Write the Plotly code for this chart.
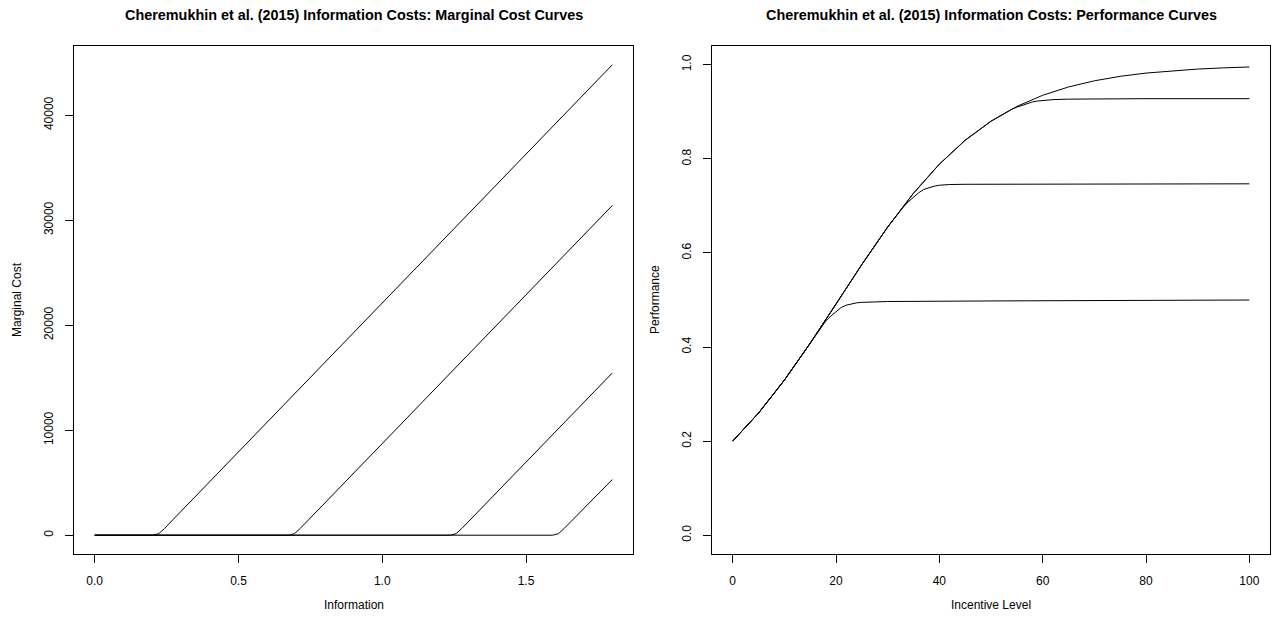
import plotly.graph_objects as go

# ---------------- Data ----------------
# Left panel: marginal cost curves (Information -> Marginal Cost)
mc1_x = [0.0, 0.203, 0.223, 0.243, 1.8]
mc1_y = [0, 0, 150, 650, 44800]
mc2_x = [0.0, 0.675, 0.695, 0.715, 1.8]
mc2_y = [0, 0, 150, 650, 31400]
mc3_x = [0.0, 1.237, 1.257, 1.277, 1.8]
mc3_y = [0, 0, 150, 650, 15450]
mc4_x = [0.0, 1.593, 1.613, 1.633, 1.8]
mc4_y = [0, 0, 150, 650, 5300]

# Right panel: performance curves (Incentive Level -> Performance)
pf1_x = [0, 5, 10, 15, 20, 25, 30, 35, 40, 45, 50, 55, 60, 65, 70, 75, 80, 85, 90, 95, 100]
pf1_y = [0.200, 0.2596, 0.3295, 0.4080, 0.4914, 0.5754, 0.6551, 0.7270, 0.7888, 0.8397,
         0.8801, 0.9115, 0.9352, 0.9529, 0.9660, 0.9755, 0.9824, 0.9874, 0.9910, 0.9935, 0.9954]

pf2_x = [0, 5, 10, 15, 20, 25, 30, 35, 40, 45, 50, 54, 55, 56, 57, 58, 59, 60, 62, 65, 70, 80, 100]
pf2_y = [0.200, 0.2596, 0.3295, 0.4080, 0.4914, 0.5754, 0.6551, 0.7270, 0.7888, 0.8397,
         0.8801, 0.9055, 0.910, 0.914, 0.918, 0.921, 0.923, 0.9245, 0.926, 0.927, 0.9275, 0.928, 0.928]

pf3_x = [0, 5, 10, 15, 20, 25, 30, 32, 33, 34, 35, 36, 37, 38, 39, 40, 42, 45, 60, 100]
pf3_y = [0.200, 0.2596, 0.3295, 0.4080, 0.4914, 0.5754, 0.6551, 0.684, 0.697, 0.709,
         0.719, 0.728, 0.735, 0.739, 0.742, 0.744, 0.7455, 0.746, 0.7465, 0.747]

pf4_x = [0, 5, 10, 15, 17, 18, 19, 20, 21, 22, 23, 24, 25, 27, 30, 50, 100]
pf4_y = [0.200, 0.2596, 0.3295, 0.4080, 0.440, 0.455, 0.466, 0.476, 0.484, 0.489,
         0.492, 0.494, 0.495, 0.496, 0.4968, 0.498, 0.500]

left_xticks = [0.0, 0.5, 1.0, 1.5]
left_xticklabels = ["0.0", "0.5", "1.0", "1.5"]
left_yticks = [0, 10000, 20000, 30000, 40000]
left_yticklabels = ["0", "10000", "20000", "30000", "40000"]
right_xticks = [0, 20, 40, 60, 80, 100]
right_xticklabels = ["0", "20", "40", "60", "80", "100"]
right_yticks = [0.0, 0.2, 0.4, 0.6, 0.8, 1.0]
right_yticklabels = ["0.0", "0.2", "0.4", "0.6", "0.8", "1.0"]

titles = ["Cheremukhin et al. (2015) Information Costs: Marginal Cost Curves",
          "Cheremukhin et al. (2015) Information Costs: Performance Curves"]
xlabels = ["Information", "Incentive Level"]
ylabels = ["Marginal Cost", "Performance"]

# ---------------- Figure ----------------
W, H = 1276, 623
FONT = "Liberation Sans, Arial, Helvetica, sans-serif"

fig = go.Figure()
line = dict(color="black", width=1)
for xs, ys in [(mc1_x, mc1_y), (mc2_x, mc2_y), (mc3_x, mc3_y), (mc4_x, mc4_y)]:
    fig.add_trace(go.Scatter(x=xs, y=ys, mode="lines", line=line, xaxis="x", yaxis="y",
                             showlegend=False, hoverinfo="skip"))
for xs, ys in [(pf1_x, pf1_y), (pf2_x, pf2_y), (pf3_x, pf3_y), (pf4_x, pf4_y)]:
    fig.add_trace(go.Scatter(x=xs, y=ys, mode="lines", line=line, xaxis="x2", yaxis="y2",
                             showlegend=False, hoverinfo="skip"))

# pixel boxes of the two plot regions
L1, R1 = 74, 633
L2, R2 = 712, 1270
TOP, BOT = 46, 554

def fx(px):
    return px / W

def fy(py):
    return 1 - py / H

lmax = max(mc1_y)
axis_common = dict(showgrid=False, zeroline=False, showline=True, linecolor="black",
                   linewidth=1, mirror=True, ticks="outside", ticklen=8, tickwidth=1,
                   tickcolor="black", tickfont=dict(family=FONT, size=12, color="black"))

fig.update_layout(
    width=W, height=H,
    margin=dict(l=0, r=0, t=0, b=0),
    paper_bgcolor="white", plot_bgcolor="white",
    xaxis=dict(domain=[fx(L1), fx(R1)], range=[-0.04 * 1.8, 1.04 * 1.8],
               tickvals=left_xticks, ticktext=left_xticklabels, anchor="y",
               ticklabelstandoff=8, **axis_common),
    yaxis=dict(domain=[fy(BOT), fy(TOP)], range=[-0.04 * lmax, 1.04 * lmax],
               tickvals=left_yticks, ticktext=left_yticklabels, anchor="x",
               tickangle=-90, ticklabelstandoff=7, **axis_common),
    xaxis2=dict(domain=[fx(L2), fx(R2)], range=[-4, 104],
                tickvals=right_xticks, ticktext=right_xticklabels, anchor="y2",
                ticklabelstandoff=8, **axis_common),
    yaxis2=dict(domain=[fy(BOT), fy(TOP)], range=[-0.04, 1.04],
                tickvals=right_yticks, ticktext=right_yticklabels, anchor="x2",
                tickangle=-90, ticklabelstandoff=7, **axis_common),
)

anns = []
for i, (l, r) in enumerate([(L1, R1), (L2, R2)]):
    cx = fx((l + r) / 2)
    anns.append(dict(text="<b>%s</b>" % titles[i], x=cx, y=fy(15), xref="paper", yref="paper",
                     showarrow=False, xanchor="center", yanchor="middle",
                     font=dict(family=FONT, size=14.4, color="black")))
    anns.append(dict(text=xlabels[i], x=cx, y=fy(605), xref="paper", yref="paper",
                     showarrow=False, xanchor="center", yanchor="middle",
                     font=dict(family=FONT, size=12, color="black")))
    anns.append(dict(text=ylabels[i], x=fx(l - 57), y=fy((TOP + BOT) / 2), xref="paper",
                     yref="paper", showarrow=False, xanchor="center", yanchor="middle",
                     textangle=-90, font=dict(family=FONT, size=12, color="black")))
fig.update_layout(annotations=anns)

fig.write_html("out.html")
